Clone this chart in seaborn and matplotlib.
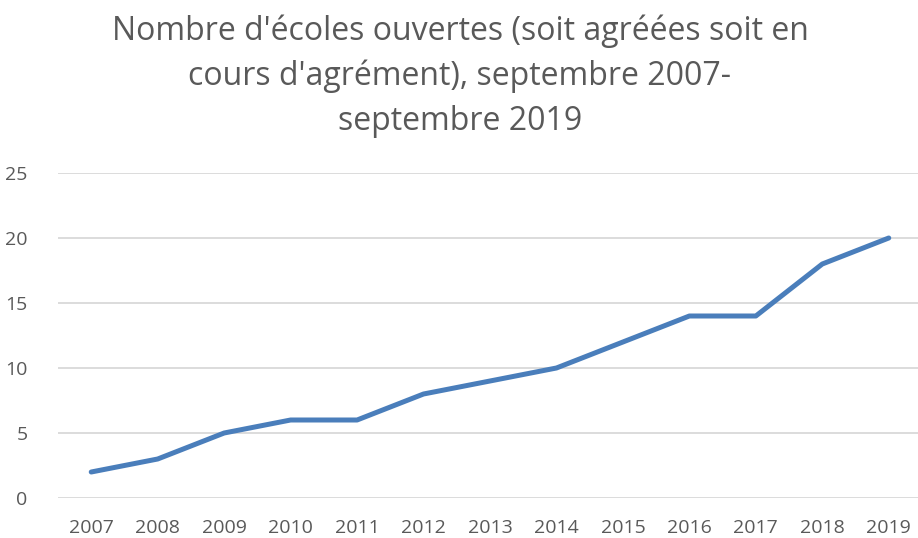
import matplotlib
matplotlib.use("Agg")
import matplotlib.pyplot as plt
import seaborn as sns
import pandas as pd

# data
years = [2007, 2008, 2009, 2010, 2011, 2012, 2013, 2014, 2015, 2016, 2017, 2018, 2019]
schools = [2, 3, 5, 6, 6, 8, 9, 10, 12, 14, 14, 18, 20]
title_lines = [
    "Nombre d'écoles ouvertes (soit agréées soit en",
    "cours d'agrément), septembre 2007-",
    "septembre 2019",
]

df = pd.DataFrame({"pos": range(len(years)), "year": years, "n": schools})

sns.set_theme(style="white")
plt.rcParams["font.family"] = ["Open Sans", "DejaVu Sans"]

grey = "#595959"
fig = plt.figure(figsize=(9.18, 5.38), dpi=100)
ax = fig.add_axes([58 / 918, 40 / 538, 1 - 58 / 918, 325 / 538])

sns.lineplot(data=df, x="pos", y="n", ax=ax, color="#4a7ebb", linewidth=3.6,
             solid_capstyle="round", solid_joinstyle="round")

ax.set_ylim(0, 25)
ax.set_xlim(-0.5, 12.44)
ax.set_yticks(range(0, 26, 5))
ax.set_xticks(df["pos"])
ax.set_xticklabels(years)
ax.grid(axis="y", color="#d9d9d9", linewidth=1.3)
ax.set_axisbelow(True)
for s in ax.spines.values():
    s.set_visible(False)
ax.tick_params(axis="both", length=0, labelsize=14, colors=grey)
ax.tick_params(axis="y", pad=22)
ax.tick_params(axis="x", pad=15)
ax.set_xlabel("")
ax.set_ylabel("")

for i, line in enumerate(title_lines):
    fig.text(460 / 918, 1 - (31 + 45 * i) / 538, line, ha="center", va="center",
             fontsize=23, color=grey)

fig.savefig("out.png", dpi=100)
